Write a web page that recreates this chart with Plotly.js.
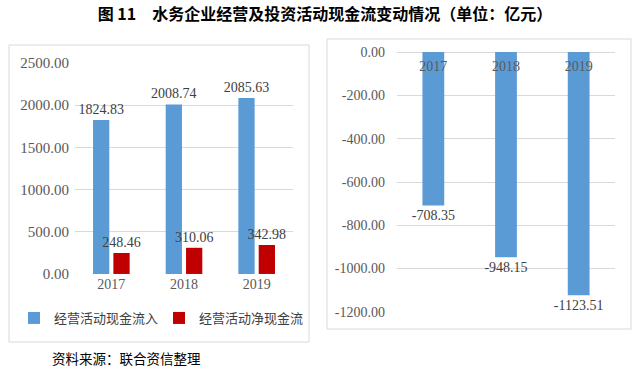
<!DOCTYPE html>
<html>
<head>
<meta charset="utf-8">
<script src="https://cdn.plot.ly/plotly-3.0.1.min.js"></script>
<style>html,body{margin:0;padding:0;background:#fff;}#chart{width:640px;height:376px;}</style>
</head>
<body>
<div id="chart"></div>
<script>
const years = ['2017', '2018', '2019'];
const operatingInflow = [1824.83, 2008.74, 2085.63];
const operatingNet = [248.46, 310.06, 342.98];
const investingNet = [-708.35, -948.15, -1123.51];
const leftTicks = [0, 500, 1000, 1500, 2000, 2500];
const rightTicks = [0, -200, -400, -600, -800, -1000, -1200];
const seriesNames = ['经营活动现金流入', '经营活动净现金流'];

const serif = '"Times New Roman", "Liberation Serif", serif';
const cjk = '"Noto Sans CJK SC", sans-serif';
const fmt = v => v.toFixed(2);

const labelFont = {family: serif, size: 14, color: '#404040'};

const traces = [
  {type: 'bar', x: years, y: operatingInflow, name: seriesNames[0], xaxis: 'x', yaxis: 'y',
   marker: {color: '#5B9BD5'}, text: operatingInflow.map(fmt), textposition: 'outside',
   constraintext: 'none', textfont: labelFont, cliponaxis: false, hoverinfo: 'none'},
  {type: 'bar', x: years, y: operatingNet, name: seriesNames[1], xaxis: 'x', yaxis: 'y',
   marker: {color: '#C00000'}, text: operatingNet.map(fmt), textposition: 'outside',
   constraintext: 'none', textfont: labelFont, cliponaxis: false, hoverinfo: 'none'},
  {type: 'bar', x: years, y: investingNet, name: '投资活动净现金流', xaxis: 'x2', yaxis: 'y2',
   marker: {color: '#5B9BD5'}, width: 0.3, showlegend: false, text: investingNet.map(fmt),
   textposition: 'outside', constraintext: 'none', textfont: labelFont, cliponaxis: false,
   hoverinfo: 'none'}
];

const tickFont = {family: serif, size: 14, color: '#595959'};

const layout = {
  width: 640, height: 376,
  margin: {l: 0, r: 0, t: 0, b: 0},
  paper_bgcolor: '#ffffff', plot_bgcolor: 'rgba(0,0,0,0)',
  barmode: 'group', bargap: 0.44, bargroupgap: 0.2,
  title: {text: '图 11　水务企业经营及投资活动现金流变动情况（单位：亿元）',
    font: {family: cjk, size: 16, color: '#000', weight: 'bold'},
    x: 0.5 + 5/640, xanchor: 'center', y: 1 - 14/376, yanchor: 'middle'},
  xaxis: {domain: [75/640, 293/640], anchor: 'y', type: 'category', tickfont: tickFont,
    showgrid: false, showline: false, ticks: '', fixedrange: true},
  yaxis: {domain: [102/376, 313/376], anchor: 'x', range: [-0.5, 2500.5], tickvals: leftTicks,
    ticktext: leftTicks.map(fmt), tickfont: {family: serif, size: 15, color: '#595959'},
    gridcolor: '#d9d9d9', gridwidth: 1,
    zeroline: false, showline: false, ticks: '', ticklabelstandoff: 5, fixedrange: true},
  xaxis2: {domain: [397/640, 615/640], anchor: 'free', position: 324/376, side: 'bottom',
    overlaying: false, tickfont: tickFont, showgrid: false, showline: false,
    ticks: '', ticklabelstandoff: 4, fixedrange: true, type: 'category'},
  yaxis2: {domain: [64/376, 324/376], anchor: 'x2', range: [-1200.5, 0.5], tickvals: rightTicks,
    ticktext: rightTicks.map(fmt), tickfont: tickFont, gridcolor: '#d9d9d9', gridwidth: 1,
    zeroline: true, zerolinecolor: '#d9d9d9', zerolinewidth: 1,
    showline: false, ticks: '', ticklabelstandoff: 11, fixedrange: true},
  showlegend: true,
  legend: {orientation: 'h', x: 14/640, xanchor: 'left', y: (376-318)/376, yanchor: 'middle',
    font: {family: cjk, size: 13, color: '#404040'}, itemwidth: 30, traceorder: 'normal',
    entrywidth: 100, entrywidthmode: 'pixels', bgcolor: 'rgba(0,0,0,0)'},
  shapes: [
    {type: 'rect', xref: 'paper', yref: 'paper', x0: 9/640, x1: 309/640, y0: (376-342)/376, y1: (376-45)/376,
     line: {color: '#d9d9d9', width: 1}, fillcolor: 'rgba(0,0,0,0)', layer: 'below'},
    {type: 'rect', xref: 'paper', yref: 'paper', x0: 327/640, x1: 631/640, y0: (376-329)/376, y1: (376-39)/376,
     line: {color: '#d9d9d9', width: 1}, fillcolor: 'rgba(0,0,0,0)', layer: 'below'}
  ],
  annotations: [
    {text: '资料来源：联合资信整理', xref: 'paper', yref: 'paper', x: 50/640, y: (376-358)/376,
     xanchor: 'left', yanchor: 'middle', showarrow: false,
     font: {family: cjk, size: 13.5, color: '#000'}}
  ]
};

Plotly.newPlot('chart', traces, layout, {displayModeBar: false, staticPlot: true});
</script>
</body>
</html>
